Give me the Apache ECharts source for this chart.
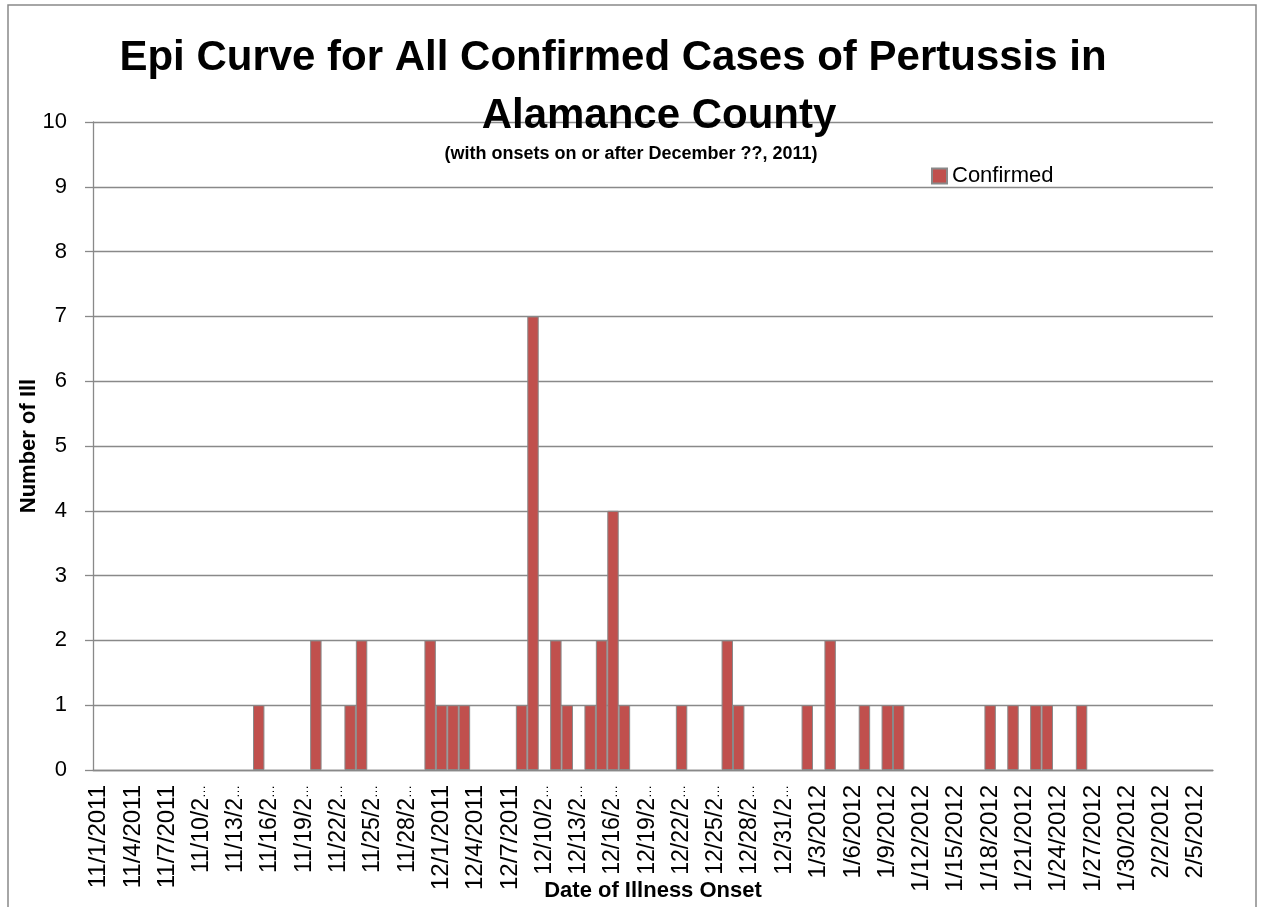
<!DOCTYPE html>
<html>
<head>
    <meta charset="utf-8">
    <title>Epi Curve</title>
    <script src="https://cdn.jsdelivr.net/npm/echarts@6/dist/echarts.min.js"></script>
    <style>
      body, canvas {
        padding: 0;
        margin: 0;
      }
    </style>
</head>
<body>
    <div id="main"></div>
    <script type="text/javascript">
      const main = document.getElementById('main')
      main.style.width = window.innerWidth + 'px'
      main.style.height = window.innerHeight + 'px'

      // first and last day shown on the date axis
      const firstDay = [2011, 11, 1]
      const lastDay = [2012, 2, 6]

      // days with confirmed onsets and their counts
      const onsetDates = [
        '11/15/2011', '11/20/2011', '11/23/2011', '11/24/2011', '11/30/2011',
        '12/1/2011', '12/2/2011', '12/3/2011', '12/8/2011', '12/9/2011',
        '12/11/2011', '12/12/2011', '12/14/2011', '12/15/2011', '12/16/2011',
        '12/17/2011', '12/22/2011', '12/26/2011', '12/27/2011',
        '1/2/2012', '1/4/2012', '1/7/2012', '1/9/2012', '1/10/2012',
        '1/18/2012', '1/20/2012', '1/22/2012', '1/23/2012', '1/26/2012'
      ]
      const confirmed = [
        1, 2, 1, 2, 2,
        1, 1, 1, 1, 7,
        2, 1, 1, 2, 4,
        1, 1, 2, 1,
        1, 2, 1, 1, 1,
        1, 1, 1, 1, 1
      ]

      // one category per calendar day
      const days = []
      const d = new Date(firstDay[0], firstDay[1] - 1, firstDay[2])
      const end = new Date(lastDay[0], lastDay[1] - 1, lastDay[2])
      while (d <= end) {
        days.push((d.getMonth() + 1) + '/' + d.getDate() + '/' + d.getFullYear())
        d.setDate(d.getDate() + 1)
      }
      const values = days.map(day => {
        const i = onsetDates.indexOf(day)
        return i < 0 ? '-' : confirmed[i]
      })

      const gray = '#898989'
      const font = 'Liberation Sans'

      var myChart = echarts.init(main);
      option = {
        backgroundColor: '#fff',
        animation: false,
        title: [{
          text: 'Epi Curve for All Confirmed Cases of Pertussis in',
          left: 613, top: 37, textAlign: 'center', padding: 0,
          textStyle: { fontFamily: font, fontSize: 42, fontWeight: 'bold', color: '#000' }
        }, {
          text: 'Alamance County',
          left: 659, top: 95, textAlign: 'center', padding: 0,
          textStyle: { fontFamily: font, fontSize: 42, fontWeight: 'bold', color: '#000' }
        }, {
          text: '(with onsets on or after December ??, 2011)',
          left: 631, top: 145, textAlign: 'center', padding: 0,
          textStyle: { fontFamily: font, fontSize: 18, fontWeight: 'bold', color: '#000' }
        }],
        legend: {
          data: ['Confirmed'],
          left: 931, top: 165, padding: 0,
          itemWidth: 15, itemHeight: 15,
          icon: 'rect',
          textStyle: { fontFamily: font, fontSize: 22, color: '#000' }
        },
        graphic: [{
          type: 'rect',
          shape: { x: 8, y: 5, width: 1248, height: 1000 },
          style: { fill: 'none', stroke: gray, lineWidth: 1.5 },
          silent: true
        }],
        grid: { left: 93, right: 48, top: 122, bottom: 137, outerBoundsMode: 'none' },
        xAxis: {
          type: 'category',
          data: days,
          name: 'Date of Illness Onset',
          nameLocation: 'middle',
          nameGap: 110,
          nameMoveOverlap: false,
          nameTextStyle: { fontFamily: font, fontSize: 22, fontWeight: 'bold', color: '#000' },
          axisLine: { lineStyle: { color: gray, width: 1.3 } },
          axisTick: { interval: 2, length: 8, lineStyle: { color: gray, width: 1.3 } },
          axisLabel: {
            interval: 2, rotate: 90, margin: 15,
            fontFamily: font, fontSize: 24, color: '#000',
            // long dates get cut like the original spreadsheet did
            formatter: v => v.length > 9 ? '{d|' + v.slice(0, 7) + '}{e|…}' : v,
            rich: {
              d: { fontFamily: font, fontSize: 23, color: '#000' },
              e: { fontFamily: font, fontSize: 13, color: '#000' }
            }
          }
        },
        yAxis: {
          type: 'value',
          min: 0, max: 10, interval: 1,
          name: 'Number of Ill',
          nameLocation: 'middle',
          nameGap: 53,
          nameMoveOverlap: false,
          nameTextStyle: { fontFamily: font, fontSize: 22, fontWeight: 'bold', color: '#000' },
          axisLine: { show: true, lineStyle: { color: gray, width: 1.3 } },
          axisTick: { show: true, length: 8, lineStyle: { color: gray, width: 1.3 } },
          axisLabel: { margin: 26, fontFamily: font, fontSize: 22, color: '#000' },
          splitLine: { lineStyle: { color: gray, width: 1.3 } }
        },
        series: [{
          name: 'Confirmed',
          type: 'bar',
          data: values,
          barCategoryGap: '0%',
          itemStyle: { color: '#C0504D', borderColor: gray, borderWidth: 1 }
        }]
      };
      myChart.setOption(option);
    </script>
</body>
</html>
